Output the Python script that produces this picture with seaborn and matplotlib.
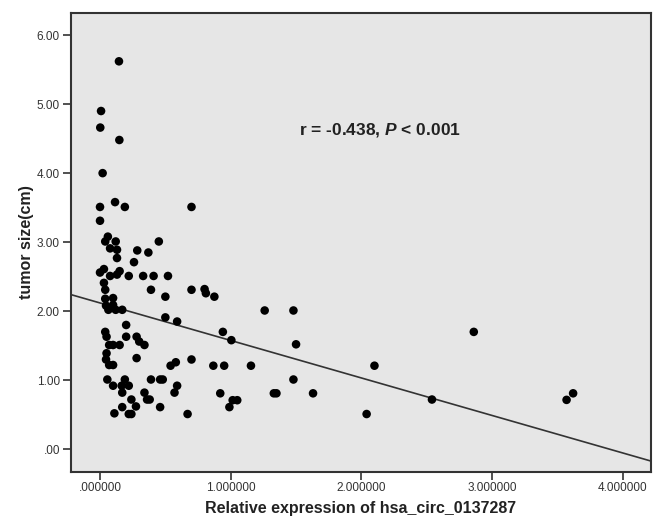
import matplotlib
matplotlib.use("Agg")
import matplotlib.pyplot as plt
from matplotlib.ticker import FuncFormatter
import seaborn as sns
import pandas as pd

expression = [0.145, 0.008, 0.002, 0.148, 0.02, 0.00, 0.115, 0.19, 0.70, 0.00,
              0.06, 0.04, 0.12, 0.077, 0.13, 0.45, 0.285, 0.37, 0.13, 0.26,
              0.00, 0.03, 0.077, 0.15, 0.13, 0.22, 0.33, 0.41, 0.52, 0.03,
              0.04, 0.39, 0.50, 0.70, 0.80, 0.81, 0.875, 0.04, 0.10, 0.046,
              0.10, 0.064, 0.12, 0.17, 1.26, 1.48, 0.50, 0.59, 0.20, 0.04,
              0.05, 0.20, 0.28, 0.94, 1.005, 1.50, 0.30, 0.34, 0.07, 0.10,
              0.15, 0.05, 0.046, 0.07, 0.10, 0.28, 0.54, 0.58, 0.70, 0.867,
              0.95, 1.155, 2.10, 0.056, 0.19, 0.39, 0.46, 0.48, 1.48, 0.10,
              0.166, 0.22, 0.17, 0.59, 0.57, 0.34, 0.92, 1.33, 1.35, 1.63,
              0.36, 0.38, 0.24, 1.015, 1.05, 0.275, 0.17, 0.46, 0.99, 0.11,
              0.22, 0.24, 0.67, 2.04, 2.54, 2.86, 3.57, 3.62]
tumor_size = [5.62, 4.90, 4.66, 4.48, 4.00, 3.51, 3.58, 3.51, 3.51, 3.31,
              3.08, 3.01, 3.01, 2.91, 2.89, 3.01, 2.88, 2.85, 2.77, 2.71,
              2.56, 2.61, 2.51, 2.58, 2.53, 2.51, 2.51, 2.51, 2.51, 2.41,
              2.31, 2.31, 2.21, 2.31, 2.32, 2.26, 2.21, 2.18, 2.19, 2.08,
              2.09, 2.02, 2.02, 2.02, 2.01, 2.01, 1.91, 1.85, 1.80, 1.70,
              1.63, 1.63, 1.63, 1.70, 1.58, 1.52, 1.56, 1.51, 1.51, 1.51,
              1.51, 1.39, 1.30, 1.22, 1.22, 1.32, 1.21, 1.26, 1.30, 1.21,
              1.21, 1.21, 1.21, 1.01, 1.01, 1.01, 1.01, 1.01, 1.01, 0.92,
              0.92, 0.92, 0.82, 0.92, 0.82, 0.82, 0.81, 0.81, 0.81, 0.81,
              0.72, 0.72, 0.72, 0.71, 0.71, 0.62, 0.61, 0.61, 0.61, 0.52,
              0.51, 0.51, 0.51, 0.51, 0.72, 1.70, 0.715, 0.81]

x_ticks = [0, 1, 2, 3, 4]
y_ticks = [0, 1, 2, 3, 4, 5, 6]
x_label = "Relative expression of hsa_circ_0137287"
y_label = "tumor size(cm)"

df = pd.DataFrame({"expr": expression, "size": tumor_size})

sns.set_style("white")
plt.rcParams["font.family"] = ["Liberation Sans", "DejaVu Sans"]
plt.rcParams["mathtext.fontset"] = "custom"
plt.rcParams["mathtext.it"] = "Liberation Sans:italic:bold"
plt.rcParams["mathtext.rm"] = "Liberation Sans:bold"

fig = plt.figure(figsize=(6.56, 5.21), dpi=100)
ax = fig.add_axes([71/656, 49/521, 580/656, 459/521])
ax.set_facecolor("#E6E6E6")
ax.set_xlim(-0.222, 4.216)
ax.set_ylim(-0.33, 6.32)

sns.regplot(data=df, x="expr", y="size", ax=ax, ci=None, truncate=False,
            scatter_kws=dict(s=38, color="black", edgecolor="none", alpha=1, zorder=3),
            line_kws=dict(color="#333333", lw=1.2, zorder=2))

ax.set_xticks(x_ticks)
ax.set_yticks(y_ticks)

def fmt_x(v, pos):
    s = f"{v:.6f}"
    return s[1:] if s.startswith("0") else s

def fmt_y(v, pos):
    s = f"{v:.2f}"
    return s[1:] if s.startswith("0") else s

ax.xaxis.set_major_formatter(FuncFormatter(fmt_x))
ax.yaxis.set_major_formatter(FuncFormatter(fmt_y))
ax.tick_params(axis="x", direction="out", length=6, width=1.2, color="#333333",
               labelsize=8.5, labelcolor="#333333", bottom=True, pad=1.5)
ax.tick_params(axis="y", direction="out", length=6, width=1.2, color="#333333",
               labelsize=8.5, labelcolor="#333333", left=True, pad=2)
for sp in ax.spines.values():
    sp.set_color("#333333")
    sp.set_linewidth(1.5)

ax.set_xlabel(x_label, fontsize=11.5, fontweight="bold", color="#222222", labelpad=5)
ax.set_ylabel(y_label, fontsize=11.5, fontweight="bold", color="#222222", labelpad=2)

ax.text(2.14, 4.62, r"r = -0.438, $\mathit{P}$ < 0.001", fontsize=12.5, fontweight="bold",
        ha="center", va="center", color="#222222")

fig.savefig("out.png", dpi=100, facecolor="white")
